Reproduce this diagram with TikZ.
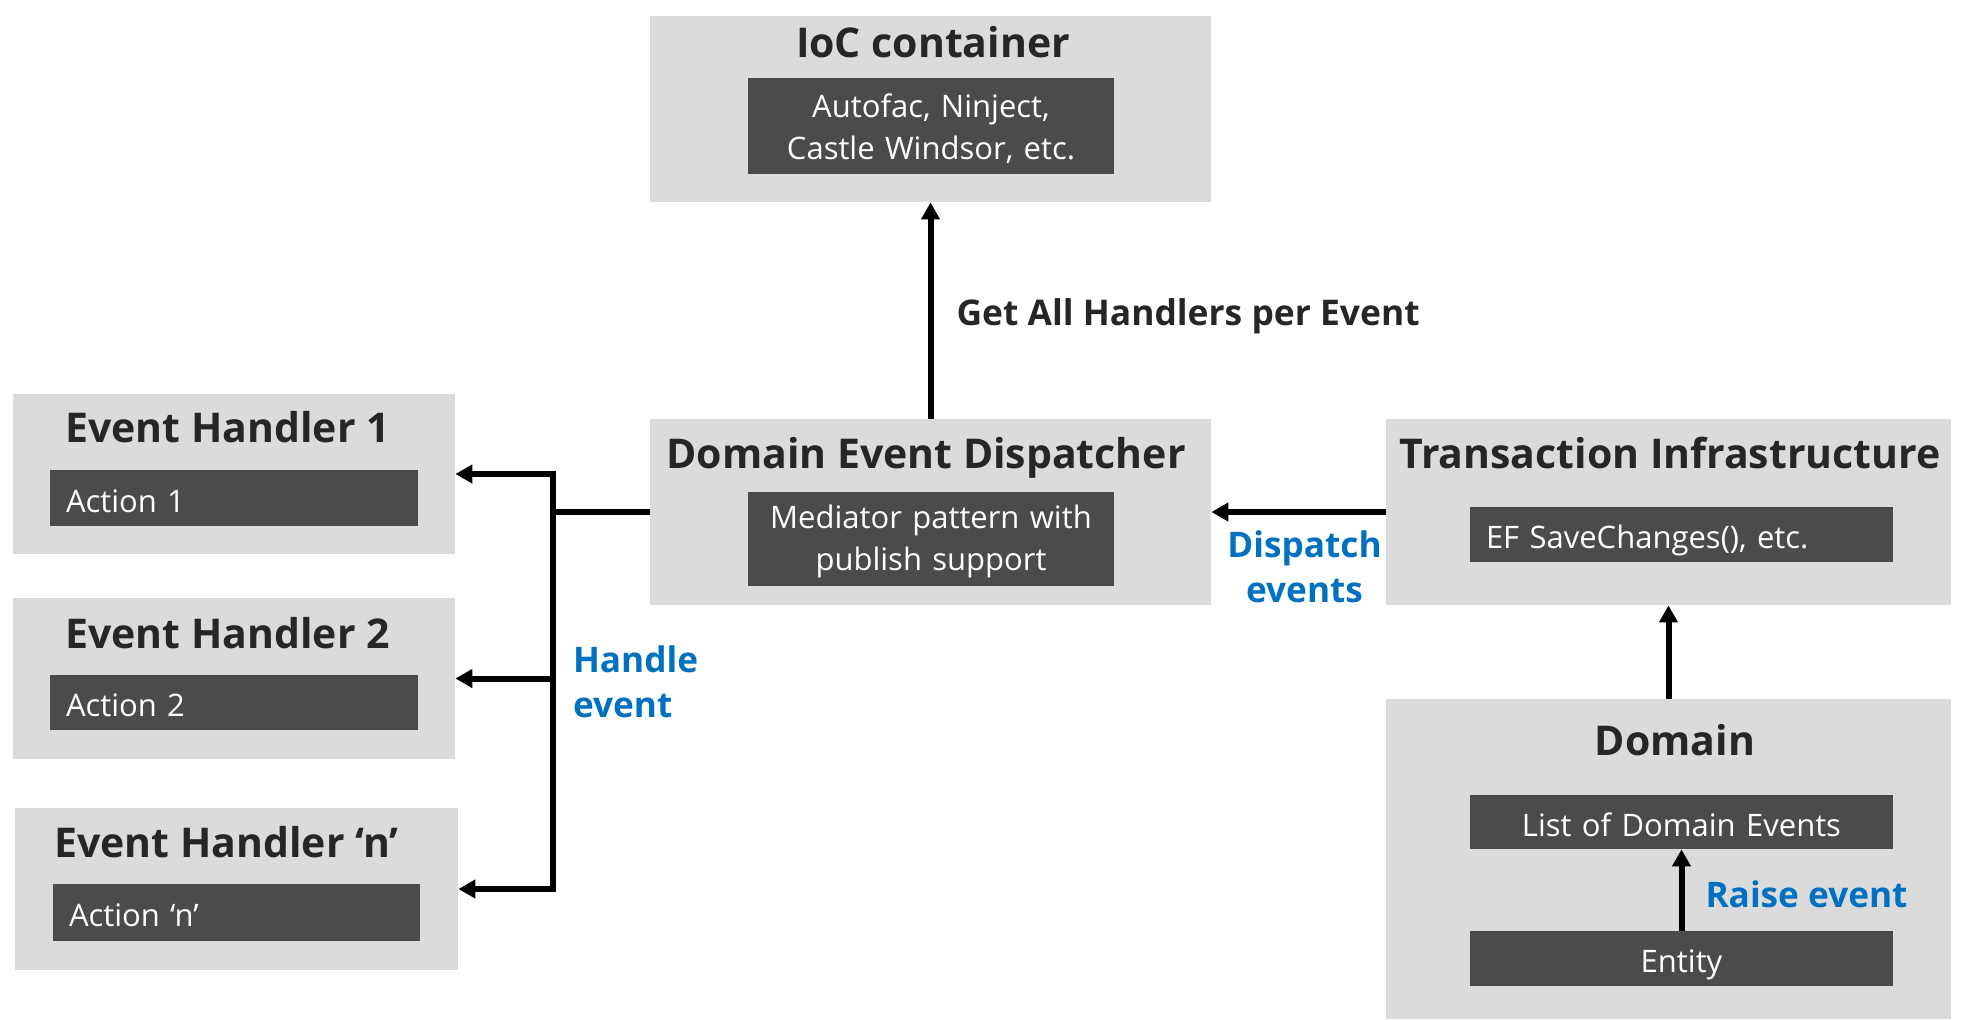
\documentclass[tikz,border=0pt]{standalone}
\usepackage{fontspec}
\setmainfont{Open Sans}
\usetikzlibrary{arrows.meta}
\definecolor{boxgray}{HTML}{DBDBDB}
\definecolor{darkgray}{HTML}{4B4B4B}
\definecolor{titlegray}{HTML}{262626}
\definecolor{labelblue}{HTML}{0070C0}
\begin{document}
\begin{tikzpicture}[x=0.5pt,y=-0.5pt,>={Triangle[length=8.5pt,width=9pt]},
  box/.style={fill=boxgray,inner sep=0pt},
  darkbox/.style={fill=darkgray,text=white,inner xsep=8pt,inner ysep=0pt,
    font=\fontsize{15.5}{20.7}\selectfont},
  oneline/.style={text height=14.2pt,text depth=0pt},
  boxtitle/.style={text=titlegray,inner sep=0pt,font=\fontsize{20.5}{25}\selectfont\bfseries},
  bluelabel/.style={text=labelblue,inner sep=0pt,align=left,
    font=\fontsize{17.6}{22.5}\selectfont\bfseries},
  link/.style={line width=3pt}]
\useasboundingbox (0,0) rectangle (1967,1019);

% boxes
\node[box,minimum width=280.5pt,minimum height=93pt] (ioc) at (930.5,109) {};
\node[box,minimum width=280.5pt,minimum height=93pt] (disp) at (930.5,512) {};
\node[box,minimum width=282.5pt,minimum height=93pt] (trans) at (1668.5,512) {};
\node[box,minimum width=282.5pt,minimum height=160pt] (domain) at (1668.5,859) {};
\node[box,minimum width=221pt,minimum height=80pt] (eh1) at (234,474) {};
\node[box,minimum width=221pt,minimum height=80.5pt] (eh2) at (234,678.5) {};
\node[box,minimum width=221.5pt,minimum height=81pt] (ehn) at (236.5,889) {};

% titles
\node[boxtitle,anchor=base] (iocTitle) at (933,57) {IoC container};
\node[boxtitle,anchor=base] (dispTitle) at (926,468) {Domain Event Dispatcher};
\node[boxtitle,anchor=base] (transTitle) at (1670,468) {Transaction Infrastructure};
\node[boxtitle,anchor=base] (domainTitle) at (1675,755) {Domain};
\node[boxtitle,anchor=base west] (eh1Title) at (65,442) {Event Handler 1};
\node[boxtitle,anchor=base west] (eh2Title) at (65,648) {Event Handler 2};
\node[boxtitle,anchor=base west] (ehnTitle) at (54,857) {Event Handler ‘n’};

% inner boxes
\node[darkbox,text width=167pt,minimum height=48pt,align=center,text height=14.3pt] (iocTools) at (931,126) {Autofac, Ninject,\\Castle Windsor, etc.};
\node[darkbox,text width=167pt,minimum height=47pt,align=center,text height=14.3pt] (mediator) at (931,539) {Mediator pattern with\\publish support};
\node[darkbox,oneline,text width=195.5pt,minimum height=27.5pt,align=left] (saveChanges) at (1681.5,534.5) {EF SaveChanges(), etc.};
\node[darkbox,oneline,text width=195.5pt,minimum height=27pt,align=center] (list) at (1681.5,822) {List of Domain Events};
\node[darkbox,oneline,text width=195.5pt,minimum height=27.5pt,align=center] (entity) at (1681.5,958.5) {Entity};
\node[darkbox,oneline,text width=168pt,minimum height=28pt,align=left] (action1) at (234,498) {Action 1};
\node[darkbox,oneline,text width=168pt,minimum height=27.5pt,align=left] (action2) at (234,702.5) {Action 2};
\node[darkbox,oneline,text width=167.5pt,minimum height=28.5pt,align=left] (actionn) at (236.5,912.5) {Action ‘n’};

\coordinate (bus) at (553,512);

% connectors
\draw[link,->] (disp) -- node[boxtitle,right,xshift=11.5pt,yshift=-3pt,font=\fontsize{17.7}{22}\selectfont\bfseries] {Get All Handlers per Event} (ioc);
\draw[link,->] (trans) -- node[bluelabel,below=8pt,xshift=3pt,align=center] {Dispatch\\events} (disp);
\draw[link,->] (domain) -- (trans);
\draw[link,->] (entity) -- node[bluelabel,right=10.5pt,yshift=-2pt] {Raise event} (list);
\draw[link] (disp.west) -- (bus);
\draw[link,<->] (eh1.east) -- (eh1.east -| bus) -- node[bluelabel,right=8.5pt] {Handle\\event} (ehn.east -| bus) -- (ehn.east);
\draw[link,->] (eh2.east -| bus) -- (eh2.east);

\end{tikzpicture}
\end{document}
